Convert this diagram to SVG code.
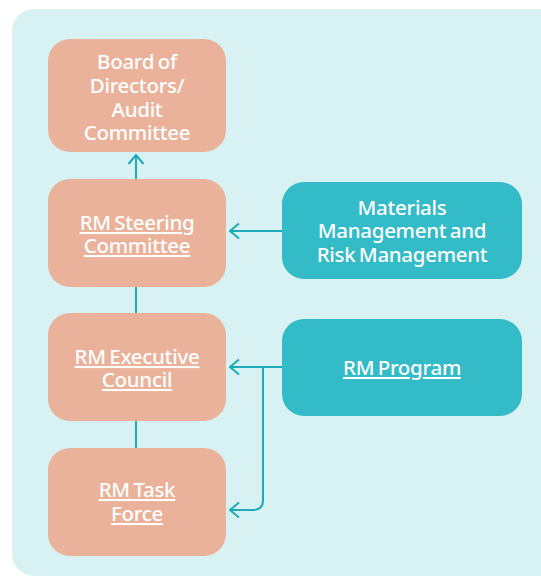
<svg xmlns="http://www.w3.org/2000/svg" width="541" height="577" viewBox="0 0 541 577">
<defs>
<style>
.salmon{fill:#eab29a}
.teal{fill:#33bbc7}
.t{font-family:"Noto Sans","Open Sans",sans-serif;font-size:20.5px;font-weight:500;letter-spacing:-0.3px;word-spacing:-1.5px;fill:#ffffff;text-anchor:middle}
.u{text-decoration:underline}
.c{fill:none;stroke:#1eaab8;stroke-width:2}
</style>
<marker id="ah" viewBox="0 0 12 18" refX="10.5" refY="9" markerWidth="12" markerHeight="18" markerUnits="userSpaceOnUse" orient="auto">
<path d="M1.5,1.5 L10.5,9 L1.5,16.5" fill="none" stroke="#1eaab8" stroke-width="2"/>
</marker>
</defs>
<rect x="12" y="9" width="560" height="567" rx="22" fill="#d8f1f3"/>
<g id="connectors">
<line class="c" x1="136" y1="179" x2="136" y2="155" marker-end="url(#ah)"/>
<line class="c" x1="136" y1="287" x2="136" y2="313"/>
<line class="c" x1="136" y1="421" x2="136" y2="448"/>
<line class="c" x1="282" y1="231" x2="230" y2="231" marker-end="url(#ah)"/>
<line class="c" x1="282" y1="367" x2="230" y2="367" marker-end="url(#ah)"/>
<path class="c" d="M263,367 V500 Q263,510 253,510 H230" marker-end="url(#ah)"/>
</g>
<g id="board">
<rect class="salmon" x="48" y="39" width="178" height="113" rx="22"/>
<text class="t" x="137" y="69">Board of</text>
<text class="t" x="137" y="93">Directors/</text>
<text class="t" x="137" y="117">Audit</text>
<text class="t" x="137" y="140">Committee</text>
</g>
<g id="steering">
<rect class="salmon" x="48" y="179" width="178" height="108" rx="22"/>
<text class="t u" x="137" y="230">RM Steering</text>
<text class="t u" x="137" y="253">Committee</text>
</g>
<g id="executive">
<rect class="salmon" x="48" y="313" width="178" height="108" rx="22"/>
<text class="t u" x="137" y="364">RM Executive</text>
<text class="t u" x="137" y="387">Council</text>
</g>
<g id="taskforce">
<rect class="salmon" x="48" y="448" width="178" height="108" rx="22"/>
<text class="t u" x="137" y="497">RM Task</text>
<text class="t u" x="137" y="521">Force</text>
</g>
<g id="materials">
<rect class="teal" x="282" y="182" width="240" height="97" rx="22"/>
<text class="t" x="402" y="215">Materials</text>
<text class="t" x="402" y="238">Management and</text>
<text class="t" x="402" y="262">Risk Management</text>
</g>
<g id="program">
<rect class="teal" x="282" y="319" width="240" height="97" rx="22"/>
<text class="t u" x="402" y="375">RM Program</text>
</g>
</svg>
